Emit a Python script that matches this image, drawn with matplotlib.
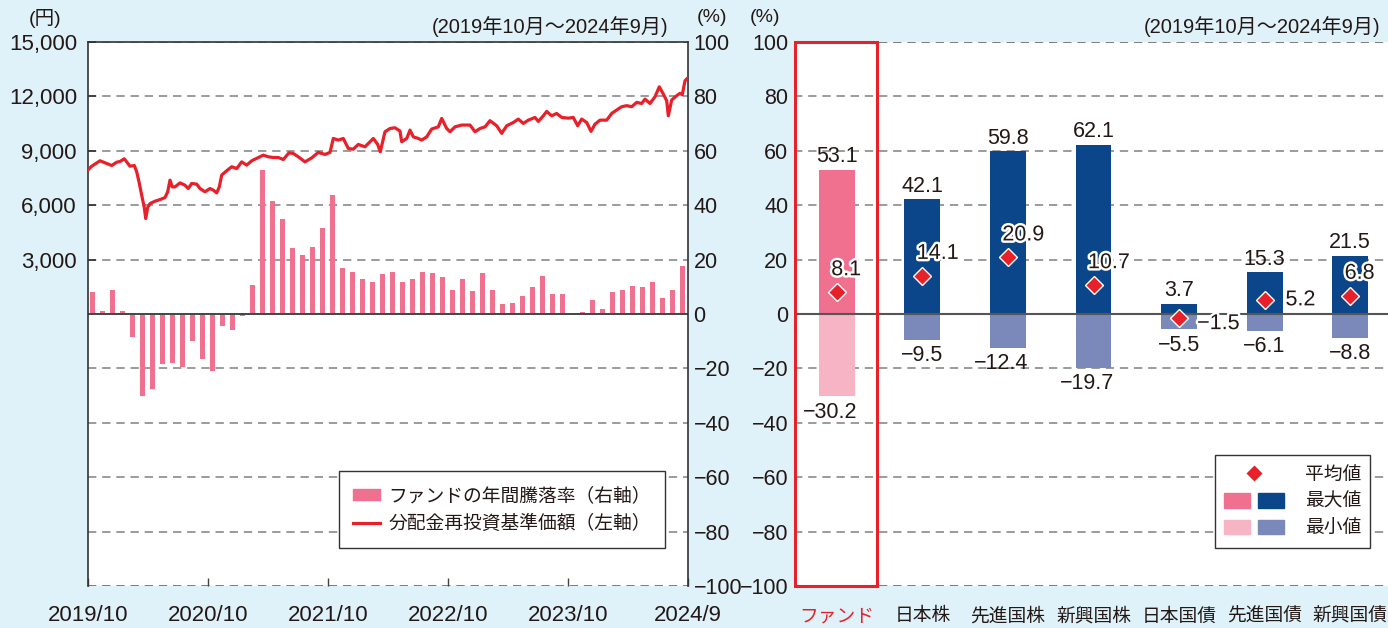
import matplotlib
matplotlib.use('Agg')
import matplotlib.pyplot as plt
from matplotlib.patches import Rectangle, Patch
from matplotlib.lines import Line2D
from matplotlib.legend_handler import HandlerTuple
import matplotlib.patheffects as pe

plt.rcParams['font.family'] = ['Liberation Sans', 'Noto Sans CJK JP', 'DejaVu Sans']
plt.rcParams['axes.unicode_minus'] = True

# ---------------- data ----------------
# monthly annual return of the fund (%), 2019/10 .. 2024/9
fund_annual_return = [
    8.2, 1.1, 8.9, 1.1, -8.6, -30.3, -27.5, -18.5, -18.1, -19.4,
    -10.0, -16.7, -20.8, -4.5, -5.8, -0.9, 10.8, 53.1, 41.7, 35.0,
    24.4, 21.8, 24.8, 31.7, 43.9, 17.0, 15.6, 12.7, 11.9, 14.8,
    15.6, 11.9, 13.0, 15.6, 15.2, 13.7, 8.9, 13.0, 8.6, 15.2,
    8.9, 3.8, 4.2, 6.7, 10.0, 14.1, 7.5, 7.5, 0.0, 0.9,
    5.3, 2.0, 8.2, 8.9, 10.4, 10.0, 11.9, 6.0, 8.9, 17.8,
]
# NAV (dividends reinvested), months elapsed since 2019/10
nav_month = [
    0.0, 0.37, 1.2, 1.7, 2.37, 2.87, 3.2, 3.63, 3.87, 4.2, 4.63, 4.87, 5.1, 5.37,
    5.63, 5.77, 5.97, 6.2, 6.7, 7.2, 7.7, 7.97, 8.2, 8.43, 8.7, 9.2, 9.7, 10.03,
    10.37, 10.87, 11.2, 11.7, 12.2, 12.53, 12.87, 13.13, 13.37, 13.87, 14.37,
    14.87, 15.37, 15.87, 16.37, 17.03, 17.53, 18.03, 18.53, 19.03, 19.53, 20.1,
    20.53, 21.03, 21.7, 22.37, 23.03, 23.7, 24.2, 24.53, 25.03, 25.53, 26.03,
    26.53, 27.03, 27.7, 28.53, 28.97, 29.23, 29.7, 30.2, 30.7, 31.2, 31.37,
    31.87, 32.2, 32.53, 33.03, 33.37, 33.87, 34.37, 35.03, 35.37, 35.87, 36.2,
    36.7, 37.37, 38.2, 38.7, 39.2, 39.7, 40.2, 40.87, 41.37, 41.87, 42.53,
    43.03, 43.53, 44.03, 44.7, 45.03, 45.53, 45.87, 46.37, 46.87, 47.37, 48.03,
    48.53, 48.97, 49.37, 49.87, 50.3, 50.7, 51.2, 51.87, 52.37, 52.87, 53.37,
    53.87, 54.37, 54.87, 55.37, 55.7, 56.2, 56.7, 57.13, 57.53, 57.87, 58.03,
    58.37, 58.87, 59.2, 59.43, 59.7, 59.87,
]
nav_yen = [
    7950, 8150, 8450, 8340, 8190, 8370, 8410, 8560, 8390, 8150, 8190, 7840, 7290, 6550,
    5870, 5265, 5870, 6090, 6220, 6310, 6420, 6740, 7380, 7010, 7010, 7230, 7100, 6920,
    7200, 7160, 6920, 6740, 6920, 6830, 6680, 7010, 7660, 7900, 8120,
    8020, 8390, 8210, 8450, 8630, 8760, 8670, 8630, 8630, 8520, 8890,
    8850, 8670, 8390, 8610, 8910, 8800, 8910, 9680, 9590, 9680, 9130,
    9090, 9350, 9220, 9680, 9350, 8945, 10050, 10230, 10270, 10090, 9500,
    9680, 10140, 9770, 9680, 9590, 9770, 10200, 10320, 10785, 10230, 10050,
    10320, 10420, 10420, 10050, 10230, 10320, 10660, 10380, 9960, 10380, 10560,
    10750, 10510, 10690, 10840, 10620, 10930, 11170, 10930, 11060, 10840, 10800,
    10840, 10380, 10750, 10560, 10070, 10470, 10690, 10690, 11060, 11250, 11430,
    11490, 11430, 11670, 11610, 11850, 11610, 11980, 12530, 12130, 11760, 10930,
    11800, 12040, 12170, 12090, 12860, 12960,
]
x_tick_months = [0, 12, 24, 36, 48, 60]
x_tick_labels = ['2019/10', '2020/10', '2021/10', '2022/10', '2023/10', '2024/9']
yen_ticks = [3000, 6000, 9000, 12000, 15000]
pct_ticks = [-100, -80, -60, -40, -20, 0, 20, 40, 60, 80, 100]

categories = ['ファンド', '日本株', '先進国株', '新興国株', '日本国債', '先進国債', '新興国債']
max_vals = [53.1, 42.1, 59.8, 62.1, 3.7, 15.3, 21.5]
min_vals = [-30.2, -9.5, -12.4, -19.7, -5.5, -6.1, -8.8]
avg_vals = [8.1, 14.1, 20.9, 10.7, -1.5, 5.2, 6.8]

# ---------------- style ----------------
BG = '#DFF2FA'
TXT = '#231815'
PINK = '#F07090'
LPINK = '#F6B4C4'
NAVY = '#0B468A'
LNAVY = '#7A89B9'
RED = '#E8202A'
GRID = '#8A8A8A'
CJK = ['Noto Sans CJK JP', 'DejaVu Sans']
NUM = ['Liberation Sans', 'Noto Sans CJK JP', 'DejaVu Sans']


def fmt_minus(v, nd=None):
    s = f'{v:.{nd}f}' if nd is not None else f'{v:d}'
    return s.replace('-', '\u2212')


W, H = 1388, 628
fig = plt.figure(figsize=(W / 100, H / 100), dpi=100)
fig.patch.set_facecolor(BG)


def px_rect(x0, y0, x1, y1):
    return [x0 / W, 1 - y1 / H, (x1 - x0) / W, (y1 - y0) / H]


# ================= left panel =================
ax = fig.add_axes(px_rect(88, 42, 688, 586))
ax.set_facecolor('white')
ax.set_xlim(0, 60)
ax.set_ylim(-100, 100)
for v in pct_ticks:
    if v == 0:
        ax.axhline(v, color='#444444', lw=1.4, zorder=2)
    else:
        ax.axhline(v, color=GRID if v != -100 else '#666666', lw=1.2,
                   ls=(0, (5, 3.5)), zorder=0.5)
months = [i + 0.45 for i in range(len(fund_annual_return))]
ax.bar(months, fund_annual_return, width=0.5, color=PINK, zorder=1)

ax2 = ax.twinx()
ax2.set_ylim(-15000, 15000)
ax2.plot(nav_month, nav_yen, color=RED, lw=2.3, zorder=3, solid_joinstyle='round')
ax2.set_xlim(0, 60)
for s in ax2.spines.values():
    s.set_visible(False)

# percentage axis on the right, yen axis on the left
ax.yaxis.tick_right()
ax.yaxis.set_label_position('right')
ax.set_yticks(pct_ticks)
ax.set_yticklabels([fmt_minus(v) for v in pct_ticks], family=NUM, fontsize=15.5, color=TXT)
ax.tick_params(axis='y', which='both', left=False, labelleft=False, right=False,
               labelright=True, length=0, pad=4)
ax.set_xticks(x_tick_months)
ax.set_xticklabels(x_tick_labels, family=NUM, fontsize=16, color=TXT)
ax.tick_params(axis='x', direction='in', length=6, width=1, color='#444444', pad=14)
for s in ['left', 'right', 'top']:
    ax.spines[s].set_color('#333333')
    ax.spines[s].set_linewidth(1.2)
ax.spines['bottom'].set_visible(False)

ax2.yaxis.tick_left()
ax2.yaxis.set_label_position('left')
ax2.set_yticks(yen_ticks)
ax2.set_yticklabels([f'{v:,}' for v in yen_ticks], family=NUM, fontsize=16, color=TXT)
ax2.tick_params(axis='y', which='both', left=True, labelleft=True, right=False,
                labelright=False, direction='in', length=6, width=1.2,
                color='#333333', pad=8)

leg1 = ax2.legend(
    [Patch(color=PINK), Line2D([], [], color=RED, lw=2.3)],
    ['ファンドの年間騰落率（右軸）', '分配金再投資基準価額（左軸）'],
    loc='lower right', bbox_to_anchor=(0.962, 0.07),
    prop={'family': CJK, 'size': 13.5}, frameon=True, fancybox=False,
    edgecolor='#333333', framealpha=1, handlelength=1.45, handleheight=0.55,
    borderpad=0.75, labelspacing=0.35, handletextpad=0.45, borderaxespad=0)
leg1.get_frame().set_linewidth(1.0)
for t in leg1.get_texts():
    t.set_color(TXT)

fig.text(45 / W, 1 - 18 / H, '(円)', family=NUM, fontsize=14, color=TXT, ha='center', va='center')
fig.text(712 / W, 1 - 18 / H, '(%)', family=NUM, fontsize=14, color=TXT, ha='center', va='center')
fig.text(668 / W, 1 - 27 / H, '(2019年10月～2024年9月)', family=NUM, fontsize=14.5,
         color=TXT, ha='right', va='center')

# ================= right panel =================
axr = fig.add_axes(px_rect(794, 42, 1393, 586))
axr.set_facecolor('white')
axr.set_xlim(-0.5, len(categories) - 0.5)
axr.set_ylim(-100, 100)
for v in pct_ticks:
    if v == 0:
        axr.axhline(v, color='#555555', lw=1.5, zorder=2.5)
    else:
        axr.axhline(v, color=GRID if abs(v) != 100 else '#666666', lw=1.2,
                    ls=(0, (5, 3.5)), zorder=0.5)
for s in axr.spines.values():
    s.set_visible(False)
xs = list(range(len(categories)))
max_cols = [PINK] + [NAVY] * (len(categories) - 1)
min_cols = [LPINK] + [LNAVY] * (len(categories) - 1)
bw = 0.42
axr.bar(xs, max_vals, width=bw, color=max_cols, zorder=1)
axr.bar(xs, min_vals, width=bw, color=min_cols, zorder=1)
axr.plot(xs, avg_vals, ls='none', marker='D', ms=9, color=RED, mec='white', mew=1.0, zorder=4)

for x, v in zip(xs, max_vals):
    axr.annotate(f'{v:.1f}', (x, v), xytext=(0, 2), textcoords='offset points',
                 ha='center', va='bottom', family=NUM, fontsize=15.5, color=TXT)
for x, v in zip(xs, min_vals):
    axr.annotate(fmt_minus(v, 1), (x, v), xytext=(15, -4), textcoords='offset points',
                 ha='right', va='top', family=NUM, fontsize=15.5, color=TXT)
stroke = [pe.withStroke(linewidth=3.5, foreground='white')]
for x, v, mx in zip(xs, avg_vals, max_vals):
    if v < 0 or mx < 20:
        off, va = ((13, -4) if v < 0 else (15, 0)), 'center'
    else:
        off, va = (-4, 16), 'center'
    axr.annotate(fmt_minus(v, 1), (x, v), xytext=off, textcoords='offset points',
                 ha='left', va=va, family=NUM, fontsize=15.5, color=TXT,
                 path_effects=stroke, zorder=5)

axr.add_patch(Rectangle((-0.49, -100), 0.96, 200, fill=False, ec=RED, lw=2.2,
                        clip_on=False, zorder=6))

axr.set_yticks(pct_ticks)
axr.set_yticklabels([fmt_minus(v) for v in pct_ticks], family=NUM, fontsize=15.5, color=TXT)
axr.tick_params(axis='y', length=0, pad=4)
axr.set_xticks(xs)
axr.set_xticklabels(categories, family=CJK, fontsize=13.5, color=TXT)
axr.tick_params(axis='x', length=0, pad=14)
axr.get_xticklabels()[0].set_color(RED)

leg2 = axr.legend(
    [Line2D([], [], ls='none', marker='D', ms=9, color=RED, mec='white', mew=1.0),
     (Patch(color=PINK), Patch(color=NAVY)),
     (Patch(color=LPINK), Patch(color=LNAVY))],
    ['平均値', '最大値', '最小値'],
    handler_map={tuple: HandlerTuple(ndivide=None, pad=0.45)},
    loc='lower right', bbox_to_anchor=(0.962, 0.07),
    prop={'family': CJK, 'size': 13.5}, frameon=True, fancybox=False,
    edgecolor='#333333', framealpha=1, handlelength=3.2, handleheight=0.8,
    borderpad=0.5, labelspacing=0.3, handletextpad=1.1, borderaxespad=0)
leg2.get_frame().set_linewidth(1.0)
for t in leg2.get_texts():
    t.set_color(TXT)

fig.text(765 / W, 1 - 18 / H, '(%)', family=NUM, fontsize=14, color=TXT, ha='center', va='center')
fig.text(1380 / W, 1 - 27 / H, '(2019年10月～2024年9月)', family=NUM, fontsize=14.5,
         color=TXT, ha='right', va='center')

fig.savefig('out.png', dpi=100, facecolor=BG)
